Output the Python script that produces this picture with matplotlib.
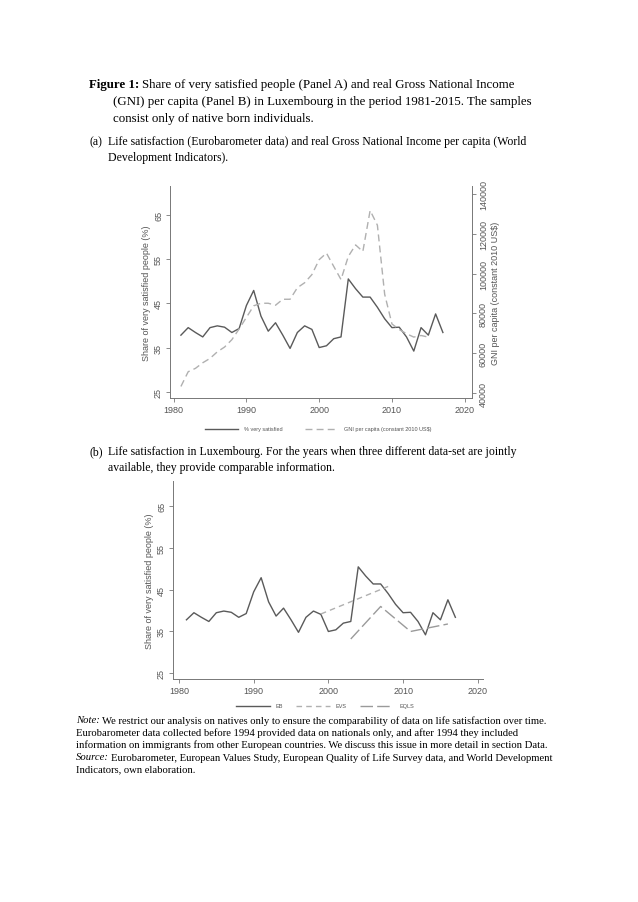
import numpy as np
import matplotlib
matplotlib.use("Agg")
import matplotlib.pyplot as plt

# share of very satisfied (Eurobarometer), 1981-2017
eb_years = list(range(1981, 2018))
eb_share = [37.8, 39.5, 38.4, 37.4, 39.5, 39.9, 39.6, 38.4, 39.3, 44.5,
            47.9, 42.1, 38.7, 40.6, 37.8, 34.8, 38.4, 39.9, 39.1, 35.0,
            35.4, 37.0, 37.4, 50.5, 48.3, 46.4, 46.4, 44.1, 41.5, 39.5,
            39.6, 37.4, 34.2, 39.5, 37.8, 42.6, 38.4]

# real GNI per capita (constant 2010 US$), 1981-2015
gni_years = list(range(1981, 2016))
gni_pc = [43300, 50700, 52400, 55200, 57400, 60700, 63100, 66800, 72200, 78000,
          83800, 85100, 85100, 84100, 87100, 87100, 92900, 95400, 99500, 107000,
          110300, 103600, 97000, 108600, 114400, 111100, 131700, 124300, 89600, 74700,
          71900, 69800, 68100, 68900, 68100]

evs_years = [1999, 2008]
evs_share = [39.2, 45.8]

eqls_years = [2003, 2007, 2011, 2016]
eqls_share = [33.2, 41.0, 35.0, 36.8]

x_ticks = [1980, 1990, 2000, 2010, 2020]
y_ticks = [25, 35, 45, 55, 65]
gni_ticks = [40000, 60000, 80000, 100000, 120000, 140000]

W, H = 638, 903
fig = plt.figure(figsize=(W / 100, H / 100), dpi=100)
fig.patch.set_facecolor("white")
renderer = fig.canvas.get_renderer()

serif = ["Liberation Serif", "DejaVu Serif"]
sans = ["Liberation Sans", "DejaVu Sans"]
axis_col = "#777777"
txt_col = "#555555"


def px(x, y):
    return x / W, 1 - y / H


def box(l, t, r, b):
    return [l / W, 1 - b / H, (r - l) / W, (b - t) / H]


def put(x, y, s, size=9.3, lead=None, lead_style=None):
    # optional bold/italic lead word, then the rest of the line
    if lead:
        fx, fy = px(x, y)
        kw = {"fontweight": "bold"} if lead_style == "bold" else {"fontstyle": "italic"}
        t = fig.text(fx, fy, lead, fontsize=size, family=serif, va="center", ha="left", **kw)
        x = t.get_window_extent(renderer).x1 + size * 0.3
        s = s
        fx = x / W
        fig.text(fx, fy, s, fontsize=size, family=serif, va="center", ha="left")
        return
    fx, fy = px(x, y)
    fig.text(fx, fy, s, fontsize=size, family=serif, va="center", ha="left")


# caption
put(89, 85, "Share of very satisfied people (Panel A) and real Gross National Income",
    lead="Figure 1:", lead_style="bold")
put(113, 102, "(GNI) per capita (Panel B) in Luxembourg in the period 1981-2015. The samples")
put(113, 119, "consist only of native born individuals.")

put(89, 142, "(a)", size=8.5)
put(108, 142, "Life satisfaction (Eurobarometer data) and real Gross National Income per capita (World", size=8.5)
put(108, 158, "Development Indicators).", size=8.5)

put(89, 452, "(b)", size=8.5)
put(108, 452, "Life satisfaction in Luxembourg. For the years when three different data-set are jointly", size=8.5)
put(108, 468, "available, they provide comparable information.", size=8.5)

ns = 7.7
put(76, 721, "We restrict our analysis on natives only to ensure the comparability of data on life satisfaction over time.",
    size=ns, lead="Note:", lead_style="italic")
put(76, 733.3, "Eurobarometer data collected before 1994 provided data on nationals only, and after 1994 they included", size=ns)
put(76, 745.6, "information on immigrants from other European countries. We discuss this issue in more detail in section Data.", size=ns)
put(76, 757.9, "Eurobarometer, European Values Study, European Quality of Life Survey data, and World Development",
    size=ns, lead="Source:", lead_style="italic")
put(76, 770.2, "Indicators, own elaboration.", size=ns)


def style_axis(ax):
    for s in ["top", "right"]:
        ax.spines[s].set_visible(False)
    for s in ["left", "bottom"]:
        ax.spines[s].set_color(axis_col)
        ax.spines[s].set_linewidth(0.7)
    ax.tick_params(colors=axis_col, labelcolor=txt_col, labelsize=6.5,
                   length=3, width=0.6, pad=2)
    ax.set_xticks(x_ticks)
    ax.set_yticks(y_ticks)
    for lab in ax.get_yticklabels():
        lab.set_rotation(90)
        lab.set_va("center")
    for lab in ax.get_xticklabels() + ax.get_yticklabels():
        lab.set_family(sans)
    ax.set_ylabel("Share of very satisfied people (%)", fontsize=6.5,
                  color=txt_col, family=sans, labelpad=2)
    ax.set_facecolor("white")


# panel A
axA = fig.add_axes(box(170, 187, 472, 399))
lA1, = axA.plot(eb_years, eb_share, color="#5a5a5a", lw=1.0)
axA.set_xlim(1979.5, 2021)
axA.set_ylim(23.6, 71.5)
style_axis(axA)

axA2 = axA.twinx()
lA2, = axA2.plot(gni_years, gni_pc, color="#b0b0b0", lw=1.0, dashes=(5, 3))
axA2.set_ylim(37500, 144000)
axA2.set_yticks(gni_ticks)
axA2.set_yticklabels([str(v) for v in gni_ticks], rotation=90, va="center",
                     family=sans)
for s in ["top", "left", "bottom"]:
    axA2.spines[s].set_visible(False)
axA2.spines["right"].set_color(axis_col)
axA2.spines["right"].set_linewidth(0.7)
axA2.tick_params(colors=axis_col, labelcolor=txt_col, labelsize=6.5,
                 length=3, width=0.6, pad=2)
axA2.set_ylabel("GNI per capita (constant 2010 US$)", fontsize=6.5,
                color=txt_col, family=sans, labelpad=2)

axA.legend([lA1, lA2], ["% very satisfied", "GNI per capita (constant 2010 US$)"],
           loc="center", bbox_to_anchor=px(318, 430),
           bbox_transform=fig.transFigure, ncol=2, frameon=False,
           prop={"family": sans, "size": 4}, labelcolor=txt_col,
           handlelength=6, columnspacing=4, handletextpad=1)

# panel B
axB = fig.add_axes(box(173, 482, 483, 680))
lB1, = axB.plot(eb_years, eb_share, color="#5a5a5a", lw=1.0)
lB2, = axB.plot(evs_years, evs_share, color="#b0b0b0", lw=1.0, dashes=(4, 3))
lB3, = axB.plot(eqls_years, eqls_share, color="#9a9a9a", lw=1.0, dashes=(9, 3))
axB.set_xlim(1979.2, 2020.7)
axB.set_ylim(23.6, 71.1)
style_axis(axB)

axB.legend([lB1, lB2, lB3], ["EB", "EVS", "EQLS"],
           loc="center", bbox_to_anchor=px(325, 707),
           bbox_transform=fig.transFigure, ncol=3, frameon=False,
           prop={"family": sans, "size": 4}, labelcolor=txt_col,
           handlelength=6, columnspacing=2.5, handletextpad=1)

fig.savefig("out.png", dpi=100, facecolor="white")
